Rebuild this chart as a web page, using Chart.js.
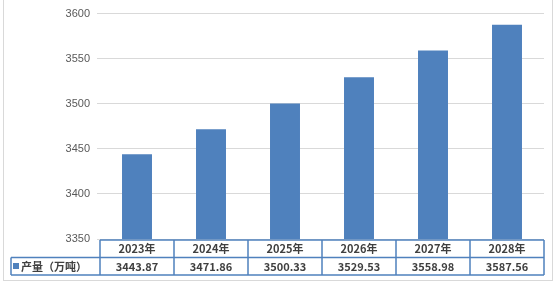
<!DOCTYPE html>
<html>
<head>
<meta charset="utf-8">
<script src="https://cdn.jsdelivr.net/npm/chart.js@4/dist/chart.umd.min.js"></script>
<style>
  html, body { margin: 0; padding: 0; background: #ffffff; }
  #wrap { width: 556px; height: 284px; position: relative; }
</style>
</head>
<body>
<div id="wrap"><canvas id="outputChart"></canvas></div>
<script>
// Chart data
const years = ['2023年', '2024年', '2025年', '2026年', '2027年', '2028年'];
const output = [3443.87, 3471.86, 3500.33, 3529.53, 3558.98, 3587.56];
const outputLabels = ['3443.87', '3471.86', '3500.33', '3529.53', '3558.98', '3587.56'];
const seriesName = '产量（万吨）';
const yTicks = [3350, 3400, 3450, 3500, 3550, 3600];

const barColor = '#4f81bd';
const tableFont = 'bold 11px "Noto Sans CJK SC", sans-serif';

/**
 * Draws the data table under the plot area, using the x scale for columns
 */
const dataTablePlugin = {
    id: 'dataTable',
    afterDraw(chart) {
        const ctx = chart.ctx;
        const area = chart.chartArea;
        const xScale = chart.scales.x;
        const step = (area.right - area.left) / years.length;

        const top = Math.round(area.bottom) + 1;
        const mid = top + 17.5;
        const bottom = mid + 17.5;
        const legendLeft = 11;

        ctx.save();

        // outer chart border
        ctx.strokeStyle = '#d9d9d9';
        ctx.lineWidth = 1;
        ctx.strokeRect(3.5, -1, 549, 281.5);

        // table grid
        ctx.strokeStyle = barColor;
        ctx.lineWidth = 1.5;
        ctx.beginPath();
        ctx.moveTo(area.left, top);
        ctx.lineTo(area.right, top);
        ctx.moveTo(legendLeft, mid);
        ctx.lineTo(area.right, mid);
        ctx.moveTo(legendLeft, bottom);
        ctx.lineTo(area.right, bottom);
        ctx.moveTo(legendLeft, mid);
        ctx.lineTo(legendLeft, bottom);
        for (let i = 0; i <= years.length; i++) {
            const x = area.left + i * step;
            ctx.moveTo(x, top);
            ctx.lineTo(x, bottom);
        }
        ctx.stroke();

        // text
        ctx.font = tableFont;
        ctx.fillStyle = '#404040';
        ctx.textAlign = 'center';
        ctx.textBaseline = 'middle';
        years.forEach((year, i) => {
            const cx = xScale.getPixelForValue(i);
            ctx.fillText(year, cx, (top + mid) / 2 + 0.5);
            ctx.fillText(outputLabels[i], cx, (mid + bottom) / 2 + 0.5);
        });

        // legend key + series name
        ctx.fillStyle = barColor;
        ctx.fillRect(13, 263, 6, 6);
        ctx.fillStyle = '#404040';
        ctx.textAlign = 'left';
        ctx.fillText(seriesName, 21, (mid + bottom) / 2 + 0.5);

        ctx.restore();
    }
};

const ctx = document.getElementById('outputChart').getContext('2d');
const outputChart = new Chart(ctx, {
    type: 'bar',
    data: {
        labels: years,
        datasets: [{
            label: seriesName,
            data: output,
            backgroundColor: barColor,
            borderWidth: 0,
            barPercentage: 0.405,
            categoryPercentage: 1.0
        }]
    },
    options: {
        responsive: true,
        maintainAspectRatio: false,
        animation: false,
        layout: {
            padding: { top: 10, right: 12, bottom: 45, left: 0 }
        },
        plugins: {
            legend: { display: false },
            tooltip: { enabled: false },
            title: { display: false }
        },
        scales: {
            x: {
                display: false
            },
            y: {
                min: 3350,
                max: 3600,
                afterFit: function(scale) {
                    scale.width = 100;
                },
                afterBuildTicks: function(scale) {
                    scale.ticks = yTicks.map(v => ({ value: v }));
                },
                border: { display: false },
                grid: {
                    color: '#d9d9d9',
                    lineWidth: 1,
                    tickLength: 3,
                    drawTicks: true
                },
                ticks: {
                    padding: 7,
                    color: '#595959',
                    font: { family: '"Liberation Sans", Arial, sans-serif', size: 11 },
                    callback: function(value) {
                        return String(value);
                    }
                }
            }
        }
    },
    plugins: [dataTablePlugin]
});
</script>
</body>
</html>
